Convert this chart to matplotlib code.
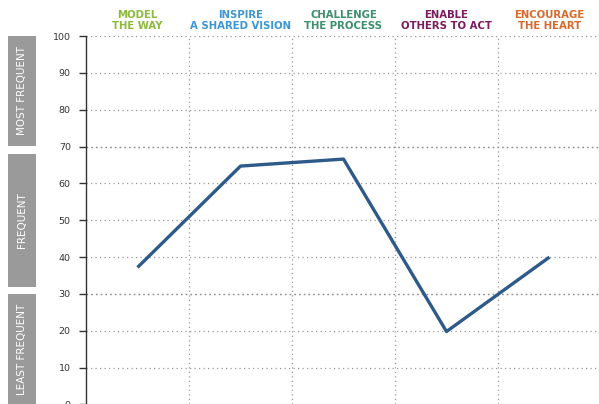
import matplotlib.pyplot as plt
import matplotlib.patches as mpatches

# practices and scores
practices = ["MODEL\nTHE WAY", "INSPIRE\nA SHARED VISION", "CHALLENGE\nTHE PROCESS",
             "ENABLE\nOTHERS TO ACT", "ENCOURAGE\nTHE HEART"]
header_colors = ["#8cba3a", "#3b97d3", "#3d8f6e", "#7b1d5c", "#d9692b"]
scores = [37.2, 64.7, 66.6, 19.8, 40.0]
y_ticks = [0, 10, 20, 30, 40, 50, 60, 70, 80, 90, 100]

# frequency bands on the left (label, low, high)
band_labels = ["MOST FREQUENT", "FREQUENT", "LEAST FREQUENT"]
band_lows = [70.2, 32.0, 0.0]
band_highs = [100.0, 68.0, 30.0]

W, H = 599, 404
fig = plt.figure(figsize=(W / 100, H / 100), dpi=100)

# main axes: left spine at x=86, y=100 at 36px, y=0 at ~404px
ax_left = 86 / W
ax_top = 1 - 36 / H
ax_bottom = 1 - 404.5 / H
ax = fig.add_axes([ax_left, ax_bottom, 515 / W, ax_top - ax_bottom])

n = len(practices)
xs = [i + 0.5 for i in range(n)]
ax.plot(xs, scores, color="#2e5a8a", lw=2.4, solid_capstyle="butt", zorder=3)

ax.set_xlim(0, n)
ax.set_ylim(0, 100)
ax.set_yticks(y_ticks)
ax.set_yticklabels([str(v) for v in y_ticks], fontsize=6.8, color="#333333")
ax.tick_params(axis="y", length=5, width=1, color="#333333", pad=6)
ax.set_xticks([])

for s in ["top", "right", "bottom"]:
    ax.spines[s].set_visible(False)
ax.spines["left"].set_color("#333333")
ax.spines["left"].set_linewidth(1)

# horizontal grid lines
for v in y_ticks[1:]:
    if v in (30, 70):
        ax.axhline(v, color="#888888", lw=1.0, ls=(0, (1.2, 2.2)), zorder=1)
    else:
        ax.axhline(v, color="#999999", lw=0.9, ls=(0, (1, 2.6)), zorder=1)
# vertical column separators
for i in range(1, n):
    ax.axvline(i, color="#999999", lw=0.9, ls=(0, (1, 2.6)), zorder=1)

# column headers
for x, label, c in zip(xs, practices, header_colors):
    ax.text(x, 101.3, label, ha="center", va="bottom", fontsize=7.3,
            fontweight="bold", color=c, linespacing=1.15, clip_on=False)

# gray bands with rotated labels
to_fig = lambda v: ax_bottom + (ax_top - ax_bottom) * v / 100
bx0 = 8 / W
bw = 28 / W
for label, lo, hi in zip(band_labels, band_lows, band_highs):
    y0 = to_fig(lo)
    y1 = to_fig(hi)
    fig.patches.append(mpatches.Rectangle((bx0, y0), bw, y1 - y0,
                                          transform=fig.transFigure,
                                          facecolor="#9a9a9a", edgecolor="none"))
    fig.text(bx0 + bw / 2, (y0 + y1) / 2, label, rotation=90, ha="center",
             va="center", color="white", fontsize=7.5)

fig.savefig("out.png", dpi=100)
